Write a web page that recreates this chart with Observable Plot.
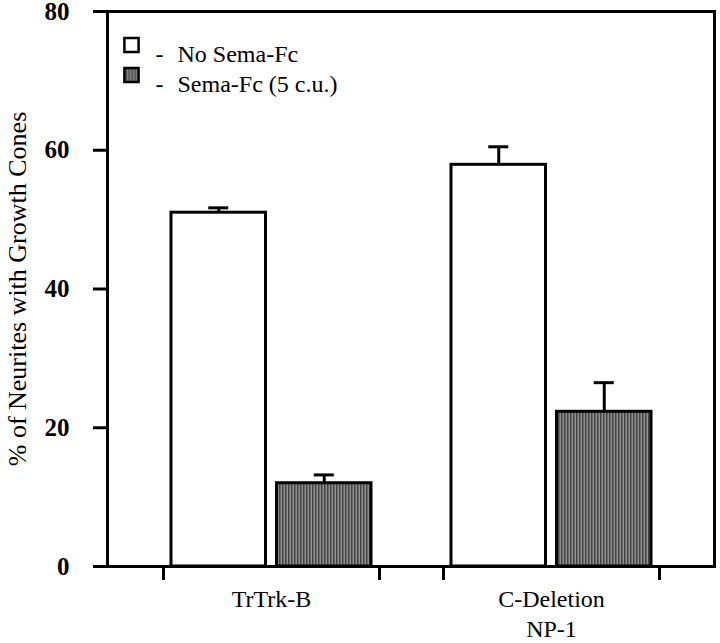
<!DOCTYPE html>
<html><head><meta charset="utf-8">
<script src="https://cdn.jsdelivr.net/npm/d3@7"></script>
<script src="https://cdn.jsdelivr.net/npm/@observablehq/plot@0.6"></script>
<style>body{margin:0;background:#fff} svg text{font-family:'Liberation Serif','Times New Roman',serif !important;}</style>
</head><body><div id="chart"></div>
<script>
// ---- data ----
const groups = ["TrTrk-B", "C-Deletion"];
const groupSubLabels = ["", "NP-1"];
const seriesNames = ["No Sema-Fc", "Sema-Fc (5 c.u.)"];
const noSemaValues = [51.0, 57.9];
const noSemaErrors = [0.7, 2.6];
const semaValues = [12.0, 22.3];
const semaErrors = [1.2, 4.2];
const yTicks = [0, 20, 40, 60, 80];
const yLabel = "% of Neurites with Growth Cones";

const noSema = groups.map((g, i) => ({group: g, value: noSemaValues[i], err: noSemaErrors[i]}));
const sema = groups.map((g, i) => ({group: g, value: semaValues[i], err: semaErrors[i]}));
const subLabels = groups.map((g, i) => ({group: g, text: groupSubLabels[i]}));

// ---- layout ----
const W = 720, H = 643, mL = 107, mR = 6, mT = 11, mB = 77;
const font = "Liberation Serif";
const xOpts = {type: "band", domain: groups, paddingInner: 0.2286, paddingOuter: 0.1982};
const xs = Plot.scale({x: {...xOpts, range: [mL, W - mR]}});
const bw = xs.bandwidth;
const pad = 8, gap = 11;
const barW = (bw - 2 * pad - gap) / 2;
const cW = pad + barW / 2 - bw / 2;        // offset of white bar centre from band centre
const cG = bw / 2 - pad - barW / 2;        // offset of gray bar centre
const capHalf = 10;

const lw = 3;
const legendMarks = seriesNames.flatMap((name, i) => {
  const dy = 33.5 + i * 30;
  return [
    Plot.dot([name], {frameAnchor: "top-left", dx: 24, dy, symbol: "square", r: 8,
      fill: i === 0 ? "white" : "url(#semaTexture)", stroke: "black", strokeWidth: 2.5}),
    Plot.text(["-"], {frameAnchor: "top-left", dx: 48, dy, text: d => d, textAnchor: "start",
      fontSize: 24, fontFamily: font}),
    Plot.text([name], {frameAnchor: "top-left", dx: 70, dy, text: d => d, textAnchor: "start",
      fontSize: 24, fontFamily: font})
  ];
});

const chart = Plot.plot({
  width: W, height: H,
  marginLeft: mL, marginRight: mR, marginTop: mT, marginBottom: mB,
  style: {fontFamily: font, fontSize: "24px", background: "white", color: "black"},
  x: {...xOpts, axis: null},
  y: {domain: [0, 80], axis: null},
  marks: [
    Plot.barY(noSema, {x: "group", y: "value", fill: "white", stroke: "black", strokeWidth: lw,
      insetLeft: pad, insetRight: bw - pad - barW}),
    Plot.barY(sema, {x: "group", y: "value", fill: "url(#semaTexture)", stroke: "black", strokeWidth: lw,
      insetLeft: pad + barW + gap, insetRight: pad}),
    Plot.ruleX(noSema, {x: "group", y1: "value", y2: d => d.value + d.err, dx: cW, stroke: "black", strokeWidth: lw}),
    Plot.ruleX(sema, {x: "group", y1: "value", y2: d => d.value + d.err, dx: cG, stroke: "black", strokeWidth: lw}),
    Plot.tickY(noSema, {x: "group", y: d => d.value + d.err, stroke: "black", strokeWidth: lw,
      insetLeft: bw / 2 + cW - capHalf, insetRight: bw / 2 - cW - capHalf}),
    Plot.tickY(sema, {x: "group", y: d => d.value + d.err, stroke: "black", strokeWidth: lw,
      insetLeft: bw / 2 + cG - capHalf, insetRight: bw / 2 - cG - capHalf}),
    Plot.frame({stroke: "black", strokeWidth: lw}),
    Plot.axisY({ticks: yTicks, tickSize: 14, tickPadding: 24, tickFormat: d => String(d),
      strokeWidth: lw, fontSize: 25, fontWeight: "bold", fontFamily: font, label: null}),
    // group edge ticks under the x axis
    Plot.ruleX(groups, {x: d => d, y1: 0, y2: 0, dx: -bw / 2, insetBottom: -14, stroke: "black", strokeWidth: lw}),
    Plot.ruleX(groups, {x: d => d, y1: 0, y2: 0, dx: bw / 2, insetBottom: -14, stroke: "black", strokeWidth: lw}),
    Plot.text(groups, {x: d => d, text: d => d, frameAnchor: "bottom", dy: 40, fontSize: 24, fontFamily: font}),
    Plot.text(subLabels, {x: "group", text: "text", frameAnchor: "bottom", dy: 70, fontSize: 24, fontFamily: font}),
    Plot.text([yLabel], {frameAnchor: "left", dx: -90, rotate: -90, text: d => d, textAnchor: "middle",
      fontSize: 26, fontFamily: font}),
    ...legendMarks
  ]
});

// texture pattern for the Sema-Fc bars
const defs = d3.select(chart).insert("defs", ":first-child");
const pat = defs.append("pattern").attr("id", "semaTexture")
  .attr("patternUnits", "userSpaceOnUse").attr("width", 3).attr("height", 3);
pat.append("rect").attr("width", 3).attr("height", 3).attr("fill", "#6a6a6a");
pat.append("rect").attr("x", 0).attr("width", 1).attr("height", 3).attr("fill", "#454545");
pat.append("rect").attr("x", 2).attr("width", 1).attr("height", 3).attr("fill", "#8e8e8e");

document.getElementById("chart").appendChild(chart);
</script>
</body></html>
